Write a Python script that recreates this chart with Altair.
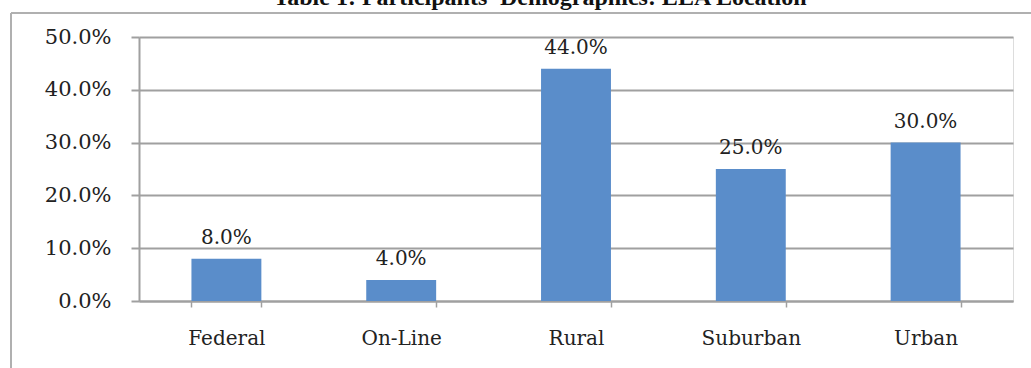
import altair as alt
import pandas as pd

categories = ["Federal", "On-Line", "Rural", "Suburban", "Urban"]
values = [0.08, 0.04, 0.44, 0.25, 0.30]
title_text = "Table 1: Participants' Demographics: LEA Location"

df = pd.DataFrame({"cat": categories, "val": values})

FONT = "DejaVu Serif"
GRID = "#a0a0a0"
BLUE = "#5a8dca"

x = alt.X("cat:N", sort=categories, title=None,
          scale=alt.Scale(paddingInner=0.6, paddingOuter=0.3),
          axis=alt.Axis(labelAngle=0, labelFont=FONT, labelFontSize=20, labelColor="#222",
                        labelPadding=21, tickBand="extent", tickSize=6, tickColor=GRID,
                        tickWidth=1.5, domainColor=GRID, domainWidth=2, grid=False))
y = alt.Y("val:Q", title=None,
          scale=alt.Scale(domain=[0, 0.5], nice=False),
          axis=alt.Axis(values=[0, 0.1, 0.2, 0.3, 0.4, 0.5], format=".1%", labelFont=FONT,
                        labelFontSize=21, labelColor="#222", labelPadding=20,
                        tickSize=8, tickColor=GRID, tickWidth=2, domainColor=GRID,
                        domainWidth=2, gridColor=GRID, gridWidth=2))

base = alt.Chart(df)
bars = base.mark_bar(color=BLUE).encode(x=x, y=y)
labels = base.mark_text(baseline="bottom", dy=-11, font=FONT, fontSize=20, color="#222").encode(
    x=alt.X("cat:N", sort=categories), y="val:Q", text=alt.Text("val:Q", format=".1%"))

border_top = alt.Chart(df).mark_rule(color="#b0b0b0", strokeWidth=2).encode(
    x=alt.value(-128), x2=alt.value(900), y=alt.value(-24))
border_left = alt.Chart(df).mark_rule(color="#b0b0b0", strokeWidth=2).encode(
    x=alt.value(-128), y=alt.value(-24), y2=alt.value(340))
title = alt.Chart(pd.DataFrame({"t": [title_text]})).mark_text(
    font="Liberation Serif", fontWeight="bold", fontSize=24, baseline="alphabetic",
    align="center", color="#111").encode(
    x=alt.value(401), y=alt.value(-32), text="t:N")

chart = alt.layer(border_top, border_left, bars, labels, title).properties(
    width=874, height=264,
    autosize=alt.AutoSizeParams(type="none"),
    padding={"left": 139, "top": 37, "right": 18, "bottom": 67},
).configure_view(stroke=None).configure(background="white")

chart.save("out.html", embed_options={"renderer": "svg", "actions": False})
